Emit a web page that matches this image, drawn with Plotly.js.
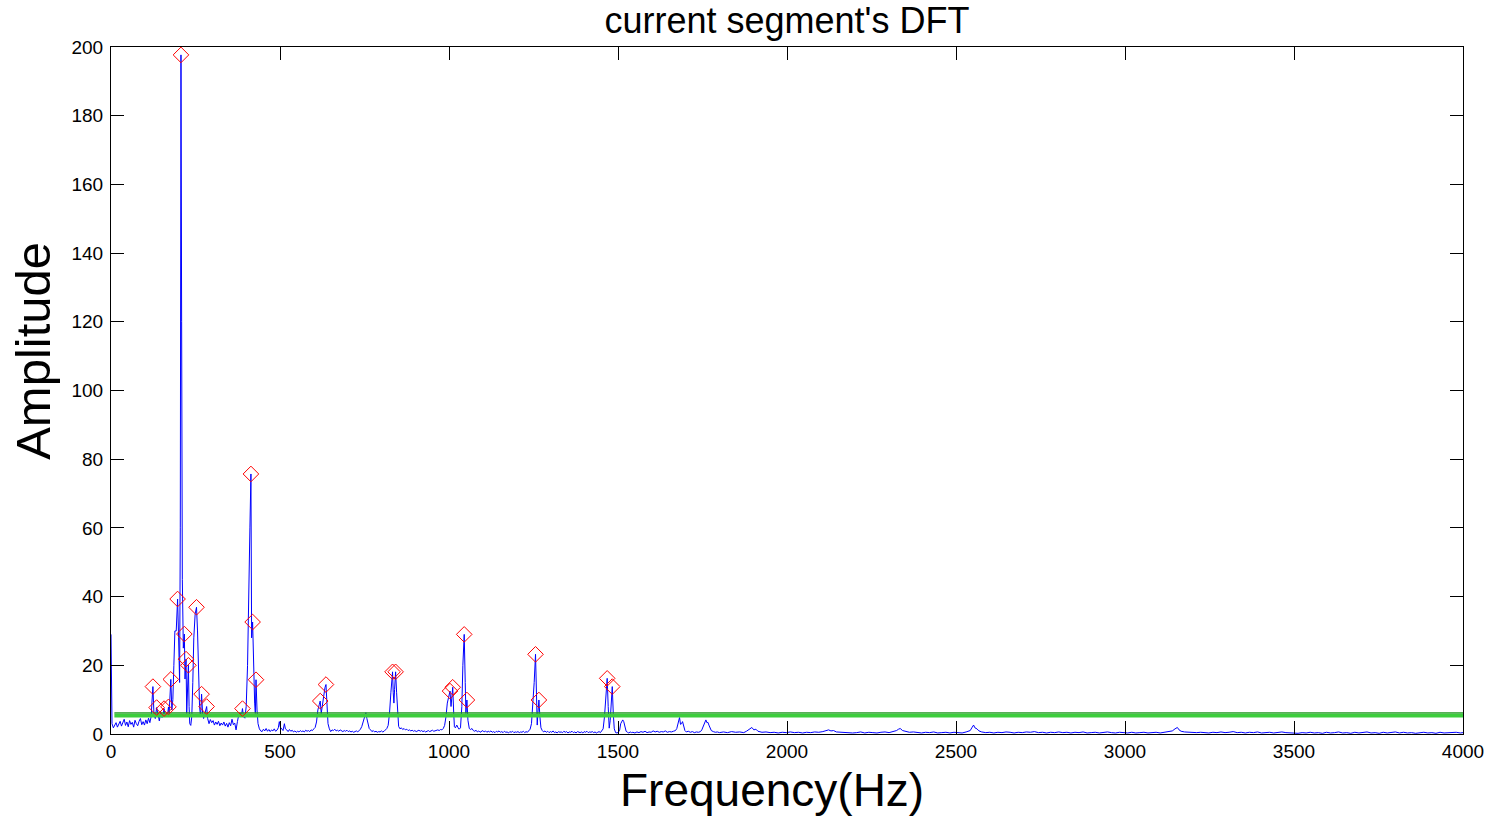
<!DOCTYPE html>
<html>
<head>
<meta charset="utf-8">
<script src="https://cdn.plot.ly/plotly-3.0.1.min.js"></script>
<style>html,body{margin:0;padding:0;background:#fff;}#chart{width:1495px;height:816px;}</style>
</head>
<body>
<div id="chart"></div>
<script>
// Detected peaks (red diamonds)
const peakFreq = [124,135,157,170,177,197,207,217,222,229,253,268,283,389,414,419,429,619,636,833,842,1003,1011,1045,1053,1256,1266,1468,1483];
const peakAmp  = [13.8,7.7,7.4,7.9,15.9,39.3,197.7,29.1,21.8,20,36.9,11.6,8.0,7.4,75.7,32.6,15.8,9.6,14.4,18.1,18.1,12.5,13.6,29.0,9.9,23.2,9.9,16.2,13.8];

// Spectrum samples between peaks (blue line)
const specFreq = [
0,3,7,11,15,19,23,27,31,35,39,43,47,51,55,59,63,67,71,75,79,83,87,91,95,99,103,107,111,115,119,121,127,131,139,143,147,151,154,160,164,167,172,175,180,183,186,189,193,200,203,205,209,211,214,219,224,226,231,233,236,239,242,245,249,256,259,262,265,271,274,278,286,290,294,298,302,306,310,314,318,322,326,330,334,338,342,346,350,354,358,362,366,370,374,378,382,386,392,396,400,404,408,411,416,422,425,427,432,435,439,443,447,451,455,459,463,467,471,475,479,483,487,491,495,498,501,505,509,513,516,520,524,528,532,536,540,544,548,552,556,560,564,568,572,576,580,584,588,592,596,600,604,608,612,616,622,625,629,633,639,642,646,650,654,658,662,666,670,674,678,682,686,690,694,698,702,706,710,714,718,722,726,730,734,738,742,746,750,754,757,760,764,768,772,776,780,784,788,792,796,800,804,808,812,816,820,824,828,831,835,837,839,845,848,851,855,859,863,867,871,875,879,883,887,891,895,899,903,907,911,915,919,923,927,931,935,939,943,947,951,955,959,963,967,971,975,979,983,987,991,995,999,1006,1008,1014,1016,1019,1023,1027,1030,1034,1038,1041,1048,1050,1056,1060,1064,1068,1072,1076,1080,1084,1088,1092,1096,1100,1104,1108,1112,1116,1120,1124,1128,1132,1136,1140,1144,1148,1152,1156,1160,1164,1168,1172,1176,1180,1184,1188,1192,1196,1200,1204,1208,1212,1216,1220,1224,1228,1232,1236,1240,1244,1248,1252,1259,1261,1263,1269,1272,1276,1280,1284,1288,1292,1296,1300,1304,1308,1312,1316,1320,1324,1328,1332,1336,1340,1344,1348,1352,1356,1360,1364,1368,1372,1376,1380,1384,1388,1392,1396,1400,1404,1408,1412,1416,1420,1424,1428,1432,1436,1440,1444,1448,1452,1456,1460,1464,1471,1474,1477,1480,1486,1489,1493,1497,1501,1505,1508,1511,1514,1517,1520,1524,1528,1532,1536,1540,1544,1550,1556,1562,1568,1574,1580,1586,1592,1598,1604,1610,1616,1622,1628,1634,1640,1646,1652,1658,1664,1670,1674,1678,1682,1685,1688,1691,1694,1698,1702,1708,1714,1720,1726,1732,1738,1744,1748,1752,1756,1760,1763,1766,1769,1772,1776,1782,1788,1794,1800,1812,1824,1836,1848,1860,1872,1880,1888,1896,1902,1908,1914,1926,1938,1950,1962,1974,1986,1998,2010,2022,2034,2046,2058,2070,2082,2094,2106,2116,2123,2130,2138,2146,2158,2170,2182,2194,2206,2218,2230,2242,2254,2266,2278,2290,2302,2314,2324,2330,2335,2342,2350,2362,2374,2386,2398,2410,2422,2434,2446,2458,2470,2482,2494,2506,2518,2530,2542,2548,2552,2556,2562,2568,2576,2588,2600,2612,2624,2636,2648,2660,2672,2684,2696,2708,2720,2732,2744,2756,2768,2780,2792,2804,2816,2828,2840,2852,2864,2876,2888,2900,2912,2924,2936,2948,2960,2972,2984,2996,3008,3020,3032,3044,3056,3068,3080,3092,3104,3116,3128,3140,3148,3155,3160,3166,3176,3188,3200,3212,3224,3236,3248,3260,3272,3284,3296,3308,3320,3332,3344,3356,3368,3380,3392,3404,3416,3428,3440,3452,3464,3476,3488,3500,3512,3524,3536,3548,3560,3572,3584,3596,3608,3620,3632,3644,3656,3668,3680,3692,3704,3716,3728,3740,3752,3764,3776,3788,3800,3812,3824,3836,3848,3860,3872,3884,3896,3908,3920,3932,3944,3956,3968,3980,3992,4000];
const specAmp = [
29,3.0,1.8,2.6,3.3,2.0,2.9,3.7,2.3,3.1,4.3,2.5,3.5,2.1,3.9,2.8,3.4,2.0,4.0,3.0,2.4,3.7,4.5,2.7,3.6,2.6,4.1,3.0,4.6,3.3,5.2,9,6,4.5,5.2,3.8,6.5,4.8,5.5,5.0,6.0,5.0,6,12,7,10,20,30,30,28,15,60,120,45,25,16,6,14,8,3,2.5,5,15,28,35,30,18,8,5,6,4.5,6,4.5,3.0,4.2,3.3,3.9,2.6,3.5,2.8,3.7,2.4,3.2,2.6,3.5,2.3,3.1,2.0,3.3,2.4,4.3,2.7,3.2,1.2,3.6,5.6,6.2,5.5,5.0,4.6,8,20,50,60,28,18,9,6,7,3,1.5,0.9,0.7,1.4,0.9,1.6,0.8,1.3,0.7,1.2,0.9,1.5,0.8,1.1,1.8,3.6,2.0,1.4,1.0,3.0,1.5,1.2,0.7,1.3,0.8,1.1,0.6,0.9,0.5,0.8,0.6,1.0,0.7,0.9,0.6,1.1,0.8,1.0,0.7,1.2,1.0,1.5,1.9,3.5,7,8.5,6,8,12,13.5,9,3,1.5,0.7,1.2,1.0,1.4,0.9,1.1,0.8,1.2,0.9,0.7,1.0,0.8,1.1,0.7,0.9,0.6,0.8,0.5,0.7,0.9,0.6,1.0,1.4,2.2,3.5,5.0,6.2,4.5,2.8,1.6,1.2,0.7,1.0,0.6,0.8,0.5,0.7,0.6,0.9,0.6,0.8,1.1,1.6,2.5,6,12,15,12,9,13,12,5,2.2,1.5,1.8,1.3,1.6,1.2,1.4,1.0,1.2,0.9,1.1,0.8,1.0,0.7,0.9,1.1,0.8,1.0,0.7,0.9,0.6,0.8,1.0,0.7,0.9,1.1,0.8,0.9,1.0,1.2,1.0,1.3,1.2,1.6,2.5,5,9,11,8,10,6,2.1,1.8,2.6,1.8,1.4,1.8,8,20,15,6,4,1.6,1.3,1.6,1.0,0.8,1.1,0.6,0.9,0.5,0.8,1.0,0.6,0.9,0.5,0.8,0.6,0.9,0.5,0.7,0.4,0.8,0.6,0.9,0.5,0.7,0.4,0.8,0.5,0.6,0.3,0.7,0.5,0.8,0.4,0.6,0.5,0.7,0.4,0.6,0.5,0.8,0.4,0.7,0.5,0.9,1.4,3,8,15,8,2.6,6,5,1.8,1.0,0.6,0.9,0.5,0.8,0.4,0.7,0.5,0.9,0.4,0.6,0.3,0.7,0.5,0.6,0.4,0.8,0.5,0.7,0.3,0.6,0.5,0.8,0.4,0.6,0.3,0.7,0.5,0.4,0.6,0.3,0.7,0.5,0.8,0.4,0.6,0.5,0.7,0.4,0.6,0.3,0.5,0.7,0.4,0.9,1.5,5,12,8,1.7,4,10,6,1.5,0.4,0.3,0.5,1.2,3.0,3.9,4.1,3.6,2.0,0.8,0.5,0.3,0.6,0.4,0.5,0.3,0.6,0.4,0.7,0.5,0.8,0.4,0.6,0.5,0.9,0.6,0.8,0.5,0.7,0.6,0.9,0.5,0.7,0.6,0.8,1.0,1.6,3.0,4.8,2.8,3.0,3.6,2.0,1.0,0.6,0.8,0.5,0.7,0.4,0.6,0.5,0.7,1.2,2.4,3.6,4.1,3.3,3.4,2.6,1.8,1.0,0.7,0.5,0.6,0.4,0.6,0.4,0.7,0.5,0.6,0.4,0.8,1.4,1.9,1.2,1.4,0.8,0.5,0.6,0.4,0.5,0.3,0.5,0.4,0.6,0.4,0.5,0.3,0.5,0.4,0.6,0.5,0.7,1.0,1.2,0.9,1.0,0.6,0.5,0.4,0.5,0.3,0.4,0.6,0.3,0.5,0.4,0.3,0.5,0.6,0.4,0.7,1.0,1.4,1.6,1.0,0.8,0.5,0.6,0.4,0.3,0.5,0.4,0.6,0.3,0.4,0.5,0.3,0.5,0.4,0.3,0.6,1.0,2.0,2.6,1.8,1.5,0.9,0.6,0.4,0.5,0.3,0.5,0.4,0.6,0.5,0.3,0.5,0.4,0.6,0.5,0.7,0.4,0.5,0.3,0.5,0.4,0.6,0.4,0.5,0.3,0.5,0.4,0.6,0.3,0.4,0.5,0.3,0.4,0.6,0.4,0.3,0.5,0.4,0.3,0.5,0.3,0.4,0.5,0.3,0.4,0.5,0.3,0.5,0.7,0.9,1.5,1.9,1.2,0.8,0.6,0.5,0.6,0.4,0.5,0.4,0.3,0.5,0.4,0.6,0.4,0.5,0.7,0.4,0.5,0.3,0.5,0.4,0.6,0.3,0.4,0.5,0.3,0.4,0.6,0.4,0.3,0.4,0.2,0.4,0.3,0.5,0.3,0.4,0.2,0.5,0.3,0.4,0.6,0.3,0.4,0.2,0.5,0.3,0.4,0.6,0.3,0.4,0.2,0.5,0.3,0.4,0.6,0.3,0.5,0.3,0.4,0.2,0.4,0.5,0.3,0.4,0.2,0.5,0.3,0.4,0.3,0.5,0.3,0.4];

// Detection threshold (green line)
const thresholdFreq = [10, 4000];
const thresholdAmp = [5.4, 5.4];

const xTicks = [0,500,1000,1500,2000,2500,3000,3500,4000];
const yTicks = [0,20,40,60,80,100,120,140,160,180,200];

const titleText = "current segment's DFT";
const xTitleText = 'Frequency(Hz)';
const yTitleText = 'Amplitude';

// merge base spectrum with peak samples, sorted by frequency
const pts = [];
for (let i = 0; i < specFreq.length; i++) pts.push([specFreq[i], specAmp[i]]);
for (let i = 0; i < peakFreq.length; i++) pts.push([peakFreq[i], peakAmp[i]]);
pts.sort((a, b) => a[0] - b[0]);
const lineX = pts.map(p => p[0]);
const lineY = pts.map(p => p[1]);

const traces = [
  {x: lineX, y: lineY, type: 'scatter', mode: 'lines', line: {color: '#0000ff', width: 1}},
  {x: thresholdFreq, y: thresholdAmp, type: 'scatter', mode: 'lines', line: {color: 'rgb(60,205,60)', width: 4}},
  {x: thresholdFreq, y: thresholdAmp.map(v => v + 0.75), type: 'scatter', mode: 'lines', line: {color: 'rgb(30,150,30)', width: 1.2}},
  {x: peakFreq, y: peakAmp, type: 'scatter', mode: 'markers',
   marker: {symbol: 'diamond-open', size: 12, color: '#ff0000', line: {width: 1, color: '#ff0000'}}}
];

const fontFam = 'Liberation Sans, Arial, sans-serif';
const layout = {
  width: 1495, height: 816,
  margin: {l: 111, r: 32, t: 47, b: 82},
  paper_bgcolor: '#ffffff', plot_bgcolor: '#ffffff',
  showlegend: false,
  font: {family: fontFam, color: '#000000'},
  title: {text: titleText, font: {family: fontFam, size: 36, color: '#000'},
          x: 0.5, xref: 'paper', y: 0.975, yref: 'container', yanchor: 'middle'},
  xaxis: {
    range: [0, 4000], tickvals: xTicks, ticktext: xTicks.map(String),
    ticks: 'inside', ticklen: 13, tickcolor: '#000', tickwidth: 1,
    showline: true, linecolor: '#000', linewidth: 1, mirror: 'ticks',
    showgrid: false, zeroline: false,
    tickfont: {family: fontFam, size: 19, color: '#000'}
  },
  yaxis: {
    range: [0, 200], tickvals: yTicks, ticktext: yTicks.map(String),
    ticks: 'inside', ticklen: 13, tickcolor: '#000', tickwidth: 1,
    showline: true, linecolor: '#000', linewidth: 1, mirror: 'ticks',
    showgrid: false, zeroline: false,
    tickfont: {family: fontFam, size: 19, color: '#000'}, ticklabelstandoff: 3
  },
  annotations: [
    {text: xTitleText, xref: 'paper', yref: 'paper', x: 0.489, y: -0.081,
     xanchor: 'center', yanchor: 'middle', showarrow: false,
     font: {family: fontFam, size: 46, color: '#000'}},
    {text: yTitleText, xref: 'paper', yref: 'paper', x: -0.0578, y: 0.5575,
     xanchor: 'center', yanchor: 'middle', showarrow: false, textangle: -90,
     font: {family: fontFam, size: 49, color: '#000'}}
  ]
};

Plotly.newPlot('chart', traces, layout, {displayModeBar: false, staticPlot: true});
</script>
</body>
</html>
